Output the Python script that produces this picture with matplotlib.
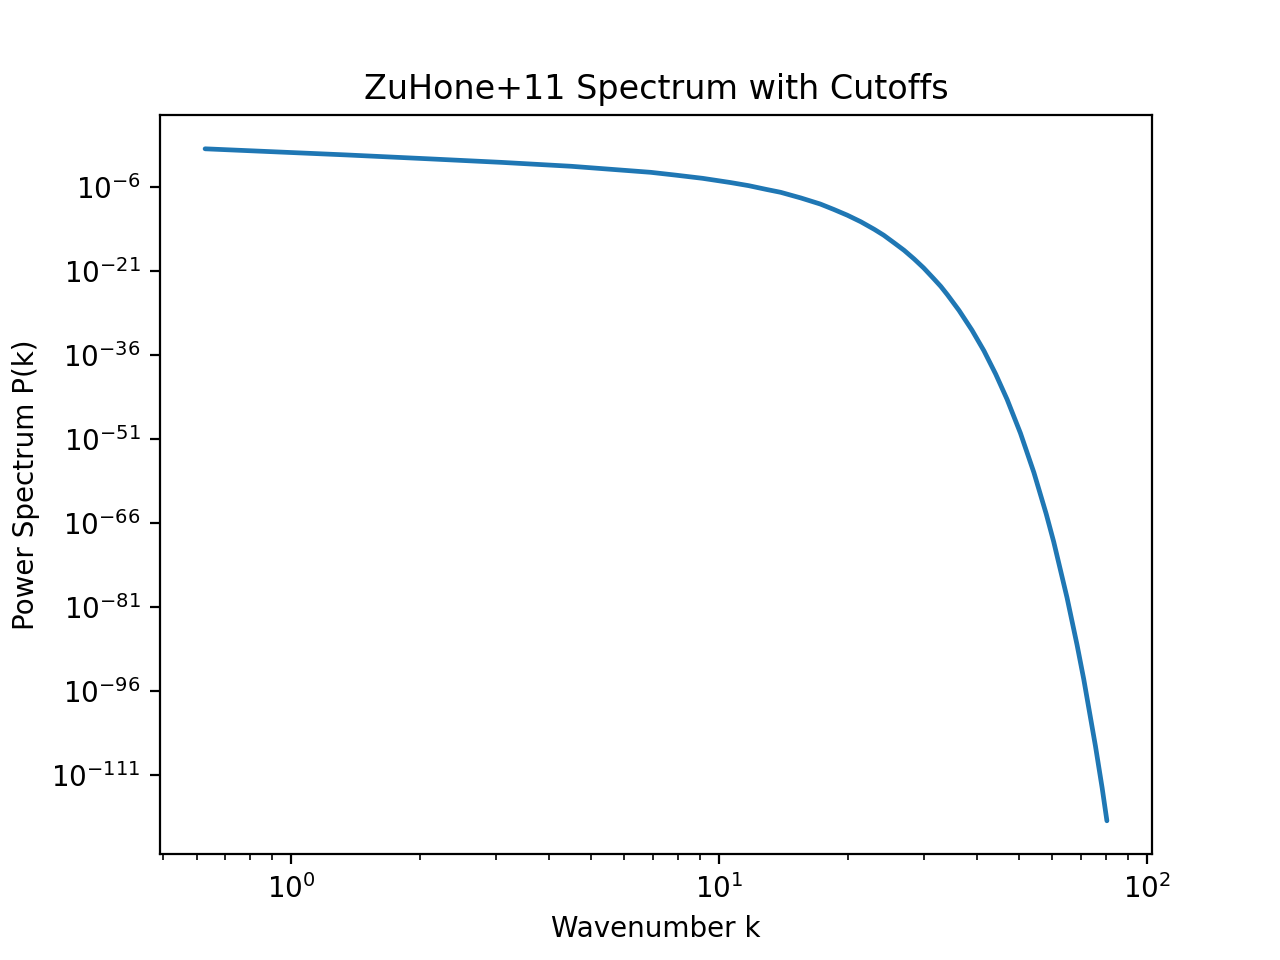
import matplotlib
matplotlib.use("Agg")
import matplotlib.pyplot as plt
import numpy as np

# wavenumbers
k = np.array([0.6283, 1.34, 2.08, 3.09, 4.50, 6.91, 7.9, 9.13, 10.6, 11.7,
              12.9, 13.9, 15.5, 17.2, 18.5, 19.9, 21.4, 23.0, 24.2, 25.6,
              27.0, 28.5, 30.0, 31.7, 32.9, 34.1, 36.3, 38.9, 41.5, 44.2,
              47.0, 50.5, 54.3, 58.0, 60.4, 64.9, 68.5, 71.0, 75.6, 78.4,
              80.42])

# log10 of the power spectrum
log_p = np.array([0.82, -0.27, -0.96, -1.60, -2.30, -3.38, -3.88, -4.45, -5.20, -5.76,
                  -6.45, -6.95, -7.96, -9.04, -10.01, -11.04, -12.21, -13.56, -14.61, -15.98,
                  -17.30, -18.85, -20.45, -22.40, -23.75, -25.25, -28.05, -31.55, -35.25, -39.40,
                  -43.92, -49.95, -57.00, -64.35, -69.35, -79.35, -87.80, -93.90, -105.80, -113.35,
                  -119.18])

power = 10.0 ** log_p

fig, ax = plt.subplots(figsize=(6.4, 4.8), dpi=200)
ax.loglog(k, power, lw=1.7, solid_capstyle='round')
ax.set_xlabel('Wavenumber k')
ax.set_ylabel('Power Spectrum P(k)')
ax.set_title('ZuHone+11 Spectrum with Cutoffs')

fig.savefig('out.png', dpi=200)
